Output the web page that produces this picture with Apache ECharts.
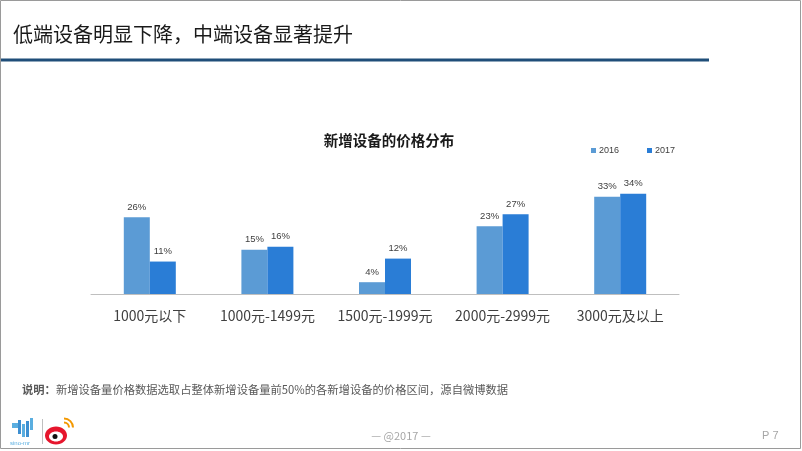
<!DOCTYPE html>
<html>
<head>
<meta charset="utf-8">
<script src="https://cdn.jsdelivr.net/npm/echarts@6/dist/echarts.min.js"></script>
<style>
html,body{margin:0;padding:0;background:#fff;}
#main{width:802px;height:451px;}
</style>
</head>
<body>
<div id="main"></div>
<script>
var categories = ['1000元以下', '1000元-1499元', '1500元-1999元', '2000元-2999元', '3000元及以上'];
var seriesNames = ['2016', '2017'];
var values2016 = [26, 15, 4, 23, 33];
var values2017 = [11, 16, 12, 27, 34];

var CJK = '"Noto Sans CJK SC", "Microsoft YaHei", sans-serif';
var LAT = '"Liberation Sans", Arial, sans-serif';

var chart = echarts.init(document.getElementById('main'), null, {renderer: 'canvas'});

var option = {
  backgroundColor: '#ffffff',
  animation: false,
  title: {
    text: '新增设备的价格分布',
    left: 384,
    textAlign: 'center',
    top: 128,
    textStyle: {fontFamily: CJK, fontSize: 14.5, fontWeight: 'bold', color: '#1a1a1a'}
  },
  legend: {
    data: seriesNames,
    left: 586,
    top: 141,
    itemWidth: 5,
    itemHeight: 5,
    itemGap: 28,
    icon: 'rect',
    textStyle: {fontFamily: LAT, fontSize: 9, color: '#404040', padding: [0, 0, 0, -2]}
  },
  grid: {left: 91, top: 176, width: 588, height: 118},
  xAxis: {
    type: 'category',
    data: categories,
    axisLine: {lineStyle: {color: '#bfbfbf', width: 1}},
    axisTick: {show: false},
    axisLabel: {interval: 0, fontFamily: CJK, fontSize: 14, color: '#404040', margin: 15}
  },
  yAxis: {
    type: 'value', min: 0, max: 40, interval: 10,
    show: false,
    splitLine: {show: false}
  },
  series: [
    {
      name: seriesNames[0], type: 'bar', data: values2016,
      barWidth: 26, barGap: '0%',
      itemStyle: {color: '#5B9BD5'},
      label: {show: true, position: 'top', distance: 5, formatter: '{c}%', fontFamily: LAT, fontSize: 9.5, color: '#404040'}
    },
    {
      name: seriesNames[1], type: 'bar', data: values2017,
      barWidth: 26, barGap: '0%',
      itemStyle: {color: '#2A7DD6'},
      label: {show: true, position: 'top', distance: 5, formatter: '{c}%', fontFamily: LAT, fontSize: 9.5, color: '#404040'}
    }
  ],
  graphic: [
    {type: 'rect', shape: {x: 0.5, y: 0.5, width: 800, height: 448}, style: {fill: 'none', stroke: '#9a9a9a', lineWidth: 1}, silent: true},
    {type: 'text', left: 13, top: 24, style: {text: '低端设备明显下降，中端设备显著提升', fontFamily: CJK, fontSize: 20, fill: '#1a1a1a'}},
    {type: 'rect', shape: {x: 1, y: 58.5, width: 708, height: 3}, style: {fill: '#1F4E79'}},
    {type: 'text', left: 22, top: 384, style: {
      text: '{b|说明：}{n|新增设备量价格数据选取占整体新增设备量前50%的各新增设备的价格区间，源自微博数据}',
      rich: {
        b: {fontFamily: CJK, fontSize: 11.3, fontWeight: 'bold', fill: '#595959'},
        n: {fontFamily: CJK, fontSize: 11.3, fill: '#595959'}
      }
    }},
    {type: 'text', left: 'center', top: 430, style: {text: '— @2017 —', fontFamily: CJK, fontSize: 11, fill: '#a6a6a6'}},
    {type: 'text', left: 762, top: 430, style: {text: 'P 7', fontFamily: LAT, fontSize: 11, fill: '#a6a6a6'}},
    {type: 'group', left: 10, top: 418, children: [
      {type: 'rect', shape: {x: 2, y: 5, width: 6, height: 5}, style: {fill: '#5aaee0'}},
      {type: 'rect', shape: {x: 8, y: 2, width: 3, height: 14}, style: {fill: '#3d8fd1'}},
      {type: 'rect', shape: {x: 12, y: 6, width: 3, height: 13}, style: {fill: '#5aaee0'}},
      {type: 'rect', shape: {x: 16, y: 3, width: 3, height: 16}, style: {fill: '#3d8fd1'}},
      {type: 'rect', shape: {x: 20, y: 0, width: 3, height: 12}, style: {fill: '#5aaee0'}},
      {type: 'text', style: {x: 0, y: 22, text: 'sino-mr', fontFamily: LAT, fontSize: 6, fill: '#5aaee0'}}
    ]},
    {type: 'line', shape: {x1: 42.5, y1: 419, x2: 42.5, y2: 444}, style: {stroke: '#bfbfbf', lineWidth: 1}},
    {type: 'group', left: 45, top: 416, children: [
      {type: 'ellipse', shape: {cx: 12, cy: 18, rx: 11, ry: 9}, style: {fill: '#e6162d'}},
      {type: 'ellipse', shape: {cx: 12, cy: 19, rx: 7, ry: 5}, style: {fill: '#ffffff'}},
      {type: 'circle', shape: {cx: 11, cy: 19, r: 2.5}, style: {fill: '#111111'}},
      {type: 'arc', shape: {cx: 20, cy: 10, r: 5, startAngle: -Math.PI / 2, endAngle: 0}, style: {stroke: '#f39800', lineWidth: 2, fill: 'none'}},
      {type: 'arc', shape: {cx: 20, cy: 10, r: 9, startAngle: -Math.PI / 2, endAngle: 0}, style: {stroke: '#f39800', lineWidth: 2, fill: 'none'}}
    ]}
  ]
};
chart.setOption(option);
</script>
</body>
</html>
